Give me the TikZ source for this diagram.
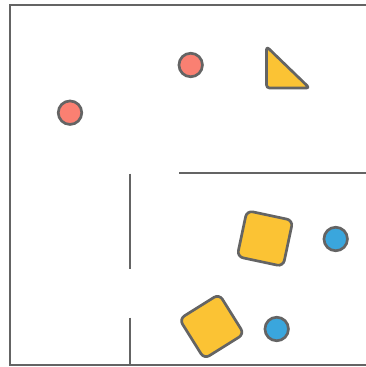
\documentclass[tikz,border=0pt]{standalone}
\definecolor{stroke}{HTML}{646464}
\definecolor{redf}{HTML}{FA8072}
\definecolor{yelf}{HTML}{FBC334}
\definecolor{bluf}{HTML}{3AA6DD}
\tikzset{
  wall/.style={draw=stroke, line width=1.7pt},
  dot/.style={circle, draw=stroke, line width=2.7pt, minimum size=23.5pt, inner sep=0pt},
  reddot/.style={dot, fill=redf},
  bluedot/.style={dot, fill=bluf},
  sqbox/.style={rectangle, draw=stroke, fill=yelf, line width=2.7pt, minimum size=47pt, inner sep=0pt, rounded corners=6pt},
  tri/.style={draw=stroke, fill=yelf, line width=2.7pt, rounded corners=3pt, line join=round}
}
\begin{document}
\begin{tikzpicture}[x=1pt,y=-1pt]
\useasboundingbox (0,0) rectangle (365,367);
\draw[wall] (366,5) -- (10,5) -- (10,365) -- (366,365);
\draw[wall] (179,173.3) -- (366,173.3);
\draw[wall] (130,173.5) -- (130,269);
\draw[wall] (130,317.7) -- (130,366);
\node[reddot] (r1) at (70,112.7) {};
\node[reddot] (r2) at (190.7,65) {};
\node[bluedot] (b1) at (335.7,239) {};
\node[bluedot] (b2) at (276.7,329) {};
\node[sqbox, rotate=-12] (s1) at (265,238.5) {};
\node[sqbox, rotate=32] (s2) at (211.7,326.5) {};
\path[tri] (266.5,46.5) -- (266.5,88) -- (309.5,88) -- cycle;
\end{tikzpicture}
\end{document}
